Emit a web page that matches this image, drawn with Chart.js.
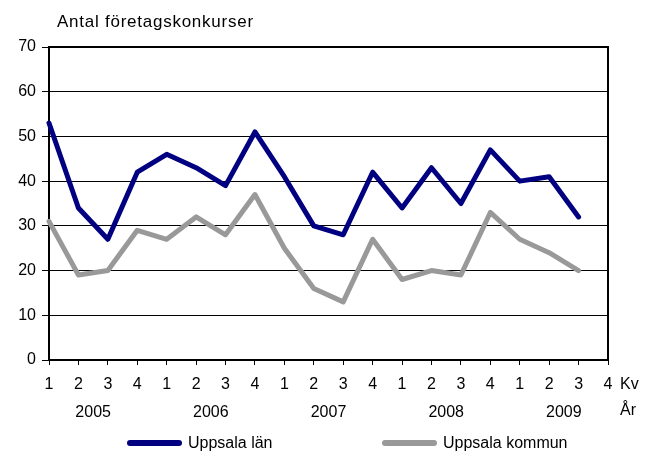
<!DOCTYPE html>
<html>
<head>
<meta charset="utf-8">
<script src="https://cdn.jsdelivr.net/npm/chart.js@4/dist/chart.umd.min.js"></script>
<style>
  html, body { margin: 0; padding: 0; background: #fff; }
  canvas { display: block; }
</style>
</head>
<body>
<canvas id="chart" width="652" height="455"></canvas>
<script>
// data
const TITLE    = 'Antal företagskonkurser';
const QUARTERS = ['1','2','3','4','1','2','3','4','1','2','3','4','1','2','3','4','1','2','3','4'];
const YEARS    = ['2005', '2006', '2007', '2008', '2009'];
const LAN      = [53, 34, 27, 42, 46, 43, 39, 51, 41, 30, 28, 42, 34, 43, 35, 47, 40, 41, 32, null];
const KOMMUN   = [31, 19, 20, 29, 27, 32, 28, 37, 25, 16, 13, 27, 18, 20, 19, 33, 27, 24, 20, null];
const Y_TICKS  = [0, 10, 20, 30, 40, 50, 60, 70];

const FONT = 'Arial, "Liberation Sans", sans-serif';
const COLORS = {
  lan:    '#000080',
  kommun: '#999999',
  ink:    '#000000',
};

// title, axis unit labels, frame and legend
const decorations = {
  id: 'decorations',
  beforeDatasetsDraw(chart) {
    const ctx = chart.ctx, a = chart.chartArea;
    ctx.save();
    ctx.strokeStyle = COLORS.ink;
    ctx.lineWidth = 2;
    ctx.beginPath();
    ctx.moveTo(a.left, a.top);
    ctx.lineTo(a.right, a.top);
    ctx.lineTo(a.right, a.bottom);
    ctx.stroke();
    ctx.restore();
  },
  afterDraw(chart) {
    const ctx = chart.ctx, a = chart.chartArea;
    ctx.save();
    ctx.fillStyle = COLORS.ink;
    ctx.textAlign = 'left';
    ctx.textBaseline = 'alphabetic';
    ctx.font = '17px ' + FONT;
    ctx.letterSpacing = '0.75px';
    ctx.fillText(TITLE, 57, 27);
    ctx.letterSpacing = '0px';

    ctx.font = '16px ' + FONT;
    ctx.textBaseline = 'middle';
    ctx.fillText('Kv', a.right + 12, 385);
    ctx.fillText('År', a.right + 12, 411);

    // legend
    const items = [
      { x: 127, ds: chart.data.datasets[0] },
      { x: 382, ds: chart.data.datasets[1] },
    ];
    items.forEach(function (it) {
      ctx.strokeStyle = it.ds.borderColor;
      ctx.lineWidth = 6;
      ctx.lineCap = 'round';
      ctx.beginPath();
      ctx.moveTo(it.x + 3, 443);
      ctx.lineTo(it.x + 52, 443);
      ctx.stroke();
      ctx.fillText(it.ds.label, it.x + 61, 444);
    });
    ctx.restore();
  },
};

new Chart(document.getElementById('chart').getContext('2d'), {
  type: 'line',
  data: {
    labels: QUARTERS,
    datasets: [
      {
        label:           'Uppsala län',
        data:            LAN,
        borderColor:     COLORS.lan,
        backgroundColor: COLORS.lan,
        borderWidth:     5,
        pointRadius:     0,
        tension:         0,
        borderJoinStyle: 'round',
        borderCapStyle:  'round',
        clip:            false,
      },
      {
        label:           'Uppsala kommun',
        data:            KOMMUN,
        borderColor:     COLORS.kommun,
        backgroundColor: COLORS.kommun,
        borderWidth:     5,
        pointRadius:     0,
        tension:         0,
        borderJoinStyle: 'round',
        borderCapStyle:  'round',
        clip:            false,
      },
    ],
  },
  options: {
    responsive:       false,
    devicePixelRatio: 1,
    animation:        false,
    layout: { padding: { left: 0, top: 47, right: 44, bottom: 33 } },
    plugins: {
      legend:  { display: false },
      title:   { display: false },
      tooltip: { enabled: false },
    },
    scales: {
      x: {
        type:   'category',
        offset: false,
        weight: 0,
        grid:   { drawOnChartArea: false, drawTicks: true, tickLength: 5, color: COLORS.ink, lineWidth: 1 },
        border: { display: true, color: COLORS.ink, width: 2 },
        ticks:  { autoSkip: false, maxRotation: 0, color: COLORS.ink, font: { family: FONT, size: 16 }, padding: 10 },
        afterFit: function (s) { s.height = 37; },
      },
      years: {
        type:     'linear',
        position: 'bottom',
        weight:   1,
        min:      0,
        max:      QUARTERS.length - 1,
        grid:     { display: false, drawTicks: false },
        border:   { display: false },
        afterBuildTicks: function (s) {
          s.ticks = YEARS.map(function (y, i) { return { value: 1.5 + 4 * i }; });
        },
        ticks: {
          color:    COLORS.ink,
          font:     { family: FONT, size: 16 },
          padding:  6,
          callback: function (v, i) { return YEARS[i]; },
        },
        afterFit: function (s) { s.height = 25; },
      },
      y: {
        min: 0,
        max: 70,
        grid:   { color: COLORS.ink, lineWidth: 1, tickLength: 7 },
        border: { display: true, color: COLORS.ink, width: 2 },
        afterBuildTicks: function (s) {
          s.ticks = Y_TICKS.map(function (v) { return { value: v }; });
        },
        ticks: { color: COLORS.ink, font: { family: FONT, size: 16 }, padding: 6 },
        afterFit: function (s) { s.width = 49; },
      },
    },
  },
  plugins: [decorations],
});
</script>
</body>
</html>
